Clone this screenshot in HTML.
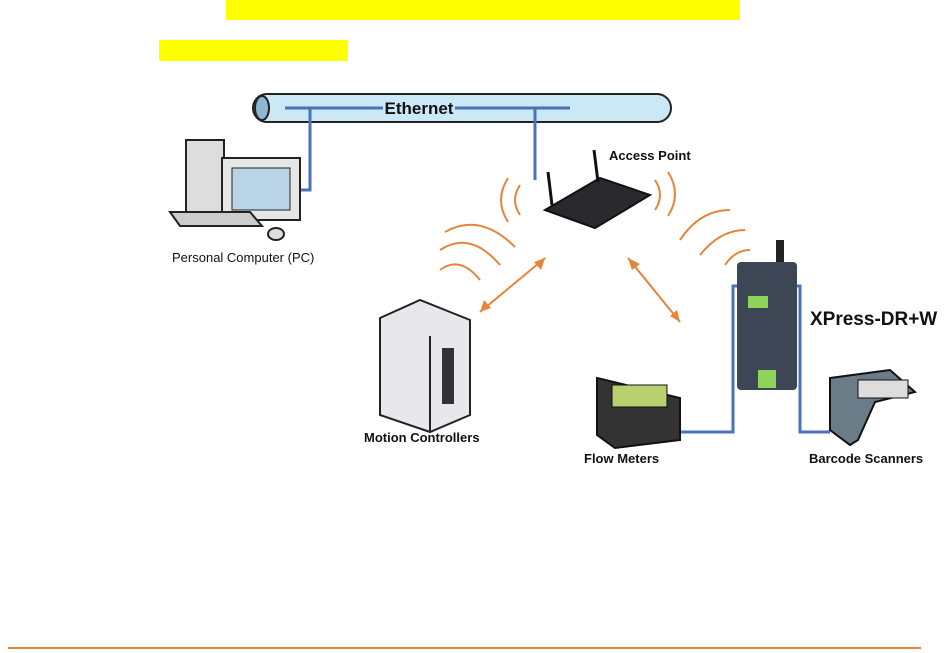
<!DOCTYPE html>
<html><head><style>
body{margin:0;width:951px;height:653px;background:#fff;position:relative;overflow:hidden;font-family:"Liberation Sans",sans-serif}
.l{position:absolute;font-weight:bold;font-size:13px;color:#111;white-space:nowrap}
</style></head><body>
<div style="position:absolute;left:226px;top:0;width:514px;height:20px;background:#ffff00"></div>
<div style="position:absolute;left:159px;top:40px;width:189px;height:21px;background:#ffff00"></div>
<div style="position:absolute;left:8px;top:647px;width:913px;height:2px;background:#e8843a"></div>
<svg width="951" height="653" style="position:absolute;left:0;top:0">
<rect x="253" y="94" width="418" height="28" rx="14" fill="#cbe8f6" stroke="#222" stroke-width="2"/>
<ellipse cx="262" cy="108" rx="7" ry="12" fill="#8fb8d0" stroke="#222" stroke-width="2"/>
<g stroke="#4a72b8" stroke-width="3" fill="none">
<line x1="285" y1="108" x2="383" y2="108"/><line x1="455" y1="108" x2="570" y2="108"/>
<polyline points="310,108 310,190 296,190"/>
<line x1="535" y1="108" x2="535" y2="180"/>
<polyline points="742,286 733,286 733,432 678,432"/>
<polyline points="785,286 800,286 800,432 830,432"/>
</g>
<text x="419" y="114" font-family="Liberation Sans" font-weight="bold" font-size="17" text-anchor="middle" fill="#111">Ethernet</text>
<!-- PC -->
<rect x="186" y="140" width="38" height="75" fill="#ddd" stroke="#222" stroke-width="2"/>
<rect x="222" y="158" width="78" height="62" fill="#e6e6e6" stroke="#222" stroke-width="2"/>
<rect x="232" y="168" width="58" height="42" fill="#b8d4e6" stroke="#222"/>
<polygon points="170,212 250,212 262,226 180,226" fill="#ccc" stroke="#222" stroke-width="2"/>
<ellipse cx="276" cy="234" rx="8" ry="6" fill="#ddd" stroke="#222" stroke-width="2"/>
<!-- AP -->
<polygon points="545,210 600,178 650,195 595,228" fill="#2a2a2e" stroke="#111" stroke-width="2"/>
<line x1="552" y1="205" x2="548" y2="172" stroke="#111" stroke-width="3"/>
<line x1="598" y1="182" x2="594" y2="150" stroke="#111" stroke-width="3"/>
<!-- waves -->
<g stroke="#e8843a" stroke-width="2" fill="none">
<path d="M520 185 q-10 15 0 30"/><path d="M508 178 q-14 22 0 44"/>
<path d="M655 180 q10 15 0 30"/><path d="M668 172 q14 22 0 44"/>
<path d="M440 270 q20 -15 40 10"/><path d="M440 250 q30 -20 60 15"/><path d="M445 232 q35 -20 70 15"/>
<path d="M680 240 q20 -30 50 -30"/><path d="M700 255 q20 -25 45 -25"/><path d="M725 265 q10 -15 25 -15"/>
<line x1="480" y1="312" x2="545" y2="258"/><line x1="628" y1="258" x2="680" y2="322"/>
</g>
<g fill="#e8843a"><polygon points="480,312 484,300 491,308"/><polygon points="545,258 534,262 541,270"/>
<polygon points="628,258 632,270 640,264"/><polygon points="680,322 670,316 677,310"/></g>
<!-- motion controller -->
<polygon points="380,318 420,300 470,320 470,415 430,432 380,415" fill="#e8e8ec" stroke="#222" stroke-width="2"/>
<line x1="430" y1="336" x2="430" y2="432" stroke="#222" stroke-width="2"/>
<rect x="442" y="348" width="12" height="56" fill="#333"/>
<!-- flow meter -->
<polygon points="597,378 680,398 680,440 615,448 597,435" fill="#333" stroke="#111" stroke-width="2"/>
<rect x="612" y="385" width="55" height="22" fill="#b8d070" stroke="#111"/>
<!-- XPress -->
<rect x="776" y="240" width="8" height="22" fill="#222"/>
<rect x="737" y="262" width="60" height="128" rx="4" fill="#3c4654"/>
<rect x="748" y="296" width="20" height="12" fill="#8fd45a"/>
<rect x="758" y="370" width="18" height="18" fill="#8fd45a"/>
<!-- scanner -->
<polygon points="830,378 890,370 915,392 875,402 858,440 850,445 830,430" fill="#6a7c88" stroke="#111" stroke-width="2"/>
<rect x="858" y="380" width="50" height="18" fill="#ddd" stroke="#111"/>
</svg>
<div class="l" style="left:609px;top:148px">Access Point</div>
<div class="l" style="left:172px;top:250px;font-weight:normal">Personal Computer (PC)</div>
<div class="l" style="left:364px;top:430px">Motion Controllers</div>
<div class="l" style="left:584px;top:451px">Flow Meters</div>
<div class="l" style="left:809px;top:451px">Barcode Scanners</div>
<div class="l" style="left:810px;top:309px;font-size:19px">XPress-DR+W</div>
</body></html>
